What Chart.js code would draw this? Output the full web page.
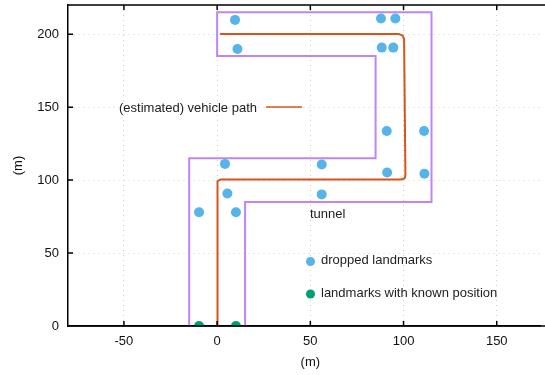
<!DOCTYPE html>
<html>
<head>
<meta charset="utf-8">
<script src="https://cdn.jsdelivr.net/npm/chart.js@4/dist/chart.umd.min.js"></script>
<style>
  html, body { margin: 0; padding: 0; background: #fff; }
  #wrap { width: 545px; height: 375px; position: relative; }
</style>
</head>
<body>
<div id="wrap"><canvas id="pathChart"></canvas></div>
<script>
// tunnel outline (m)
const tunnelX = [-15, -15, 85, 85, 0, 0, 115, 115, 15, 15];
const tunnelY = [0, 115, 115, 185, 185, 215, 215, 85, 85, 0];

// estimated vehicle path (m), read at the corners
const pathX = [0, 0, 0.4, 1.8, 99, 100.6, 101, 100.3, 99.6, 97.5, 1.6];
const pathY = [0, 97, 99.2, 100.4, 100.4, 101.3, 103, 196.5, 199, 200.1, 200.1];

// dropped landmarks (m)
const droppedX = [9.6, 10.9, 87.9, 95.6, 88.3, 94.5, 91.0, 111.0, 91.2, 111.2, 4.2, 56.1, 5.5, 56.1, -9.7, 10.1];
const droppedY = [209.8, 189.9, 210.7, 210.7, 190.8, 190.8, 133.7, 133.7, 105.2, 104.3, 111.1, 110.7, 90.8, 90.2, 77.9, 77.9];

// landmarks with known position (m)
const knownX = [-9.7, 10.1];
const knownY = [0, 0];

const xTicks = [-50, 0, 50, 100, 150];
const yTicks = [0, 50, 100, 150, 200];

const FONT = 'Liberation Sans, Arial, Helvetica, sans-serif';
const PATH_COLOR = '#d9531a';
const TUNNEL_COLOR = '#c084f5';
const DROPPED_COLOR = '#56b4e9';
const KNOWN_COLOR = '#009e73';

function toPoints(xs, ys) {
    return xs.map((x, i) => ({ x: x, y: ys[i] }));
}

// inward tick marks, top frame line, x title and the in-plot key
const framePlugin = {
    id: 'frame',
    afterDatasetsDraw(chart) {
        const ctx = chart.ctx;
        const a = chart.chartArea;
        const xs = chart.scales.x;
        const ys = chart.scales.y;
        ctx.save();
        ctx.strokeStyle = '#000';
        ctx.lineWidth = 1.5;
        ctx.beginPath();
        ctx.moveTo(a.left, a.top);
        ctx.lineTo(chart.width, a.top);
        ctx.moveTo(a.left, a.bottom);
        ctx.lineTo(chart.width, a.bottom);
        xTicks.forEach(v => {
            const p = xs.getPixelForValue(v);
            ctx.moveTo(p, a.bottom);
            ctx.lineTo(p, a.bottom - 5);
            ctx.moveTo(p, a.top);
            ctx.lineTo(p, a.top + 5);
        });
        yTicks.forEach(v => {
            const p = ys.getPixelForValue(v);
            ctx.moveTo(a.left, p);
            ctx.lineTo(a.left + 5, p);
        });
        ctx.stroke();

        ctx.font = '13px ' + FONT;
        ctx.fillStyle = '#111';
        ctx.textBaseline = 'middle';
        ctx.textAlign = 'center';
        ctx.fillText('(m)', xs.getPixelForValue(50), 362);

        // key
        ctx.fillStyle = '#222';
        ctx.textAlign = 'right';
        ctx.fillText('(estimated) vehicle path', 257, 108);
        ctx.strokeStyle = PATH_COLOR;
        ctx.lineWidth = 1.5;
        ctx.beginPath();
        ctx.moveTo(266, 107);
        ctx.lineTo(302, 107);
        ctx.stroke();

        ctx.textAlign = 'left';
        ctx.fillText('tunnel', 310, 214);
        ctx.fillText('dropped landmarks', 321, 260);
        ctx.fillText('landmarks with known position', 321, 293);

        ctx.fillStyle = DROPPED_COLOR;
        ctx.beginPath();
        ctx.arc(310.5, 261.5, 4.5, 0, Math.PI * 2);
        ctx.fill();
        ctx.fillStyle = KNOWN_COLOR;
        ctx.beginPath();
        ctx.arc(310.5, 294, 4.5, 0, Math.PI * 2);
        ctx.fill();
        ctx.restore();
    }
};

function createPathChart() {
    const ctx = document.getElementById('pathChart');
    if (!ctx) return;
    new Chart(ctx, {
        type: 'scatter',
        data: {
            datasets: [
                {
                    label: 'tunnel',
                    type: 'line',
                    data: toPoints(tunnelX, tunnelY),
                    borderColor: TUNNEL_COLOR,
                    borderWidth: 2,
                    pointRadius: 0,
                    fill: false,
                    tension: 0,
                    order: 4
                },
                {
                    label: '(estimated) vehicle path',
                    type: 'line',
                    data: toPoints(pathX, pathY),
                    borderColor: PATH_COLOR,
                    borderWidth: 2,
                    pointRadius: 0,
                    fill: false,
                    tension: 0,
                    order: 3
                },
                {
                    label: 'dropped landmarks',
                    data: toPoints(droppedX, droppedY),
                    backgroundColor: DROPPED_COLOR,
                    borderWidth: 0,
                    pointRadius: 5,
                    order: 2
                },
                {
                    label: 'landmarks with known position',
                    data: toPoints(knownX, knownY),
                    backgroundColor: KNOWN_COLOR,
                    borderWidth: 0,
                    pointRadius: 5,
                    order: 1
                }
            ]
        },
        options: {
            responsive: true,
            maintainAspectRatio: false,
            animation: false,
            layout: { padding: { top: 4, right: 0, left: 0, bottom: 0 } },
            plugins: {
                legend: { display: false },
                tooltip: { enabled: false }
            },
            scales: {
                x: {
                    type: 'linear',
                    min: -80,
                    max: 173.2,
                    afterFit: s => {
                        s.height = 49;
                        s.paddingLeft = 0;
                        s.paddingRight = 0;
                    },
                    afterBuildTicks: s => { s.ticks = xTicks.map(v => ({ value: v })); },
                    ticks: {
                        includeBounds: false,
                        stepSize: 50,
                        padding: 8,
                        color: '#111',
                        font: { size: 13, family: FONT }
                    },
                    grid: { color: '#cfcfcf', lineWidth: 1, drawTicks: false },
                    border: { color: '#000', width: 1.5, dash: [1, 4] },
                    title: { display: false }
                },
                y: {
                    type: 'linear',
                    min: 0,
                    max: 220,
                    afterFit: s => {
                        s.width = 68;
                        s.paddingTop = 0;
                        s.paddingBottom = 0;
                    },
                    afterBuildTicks: s => { s.ticks = yTicks.map(v => ({ value: v })); },
                    ticks: {
                        includeBounds: false,
                        stepSize: 50,
                        padding: 9,
                        color: '#111',
                        font: { size: 13, family: FONT }
                    },
                    grid: { color: '#cfcfcf', lineWidth: 1, drawTicks: false },
                    border: { color: '#000', width: 1.5, dash: [1, 4] },
                    title: {
                        display: true,
                        text: '(m)',
                        color: '#111',
                        font: { size: 13, family: FONT },
                        padding: { top: 11, bottom: 0 }
                    }
                }
            }
        },
        plugins: [framePlugin]
    });
}

document.addEventListener('DOMContentLoaded', () => {
    createPathChart();
});
</script>
</body>
</html>
